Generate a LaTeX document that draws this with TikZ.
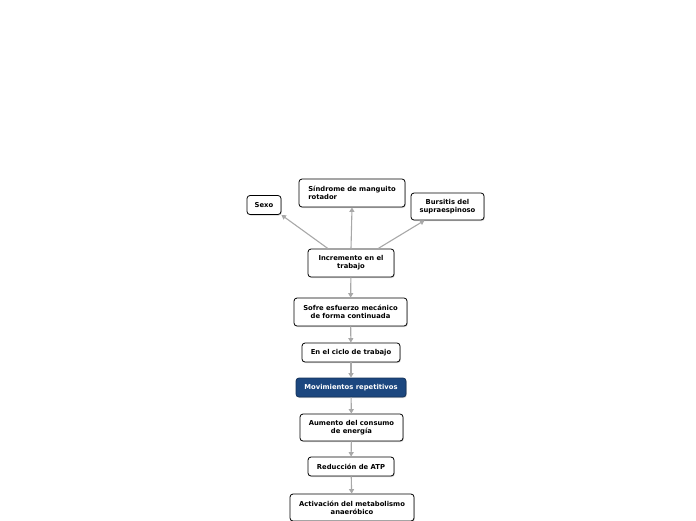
\documentclass[tikz,border=0pt]{standalone}
\usepackage{fontspec}
\setmainfont{DejaVu Sans}
\usetikzlibrary{arrows.meta,shadows}
\definecolor{conn}{HTML}{A8A8A8}
\definecolor{navy}{HTML}{1C477F}
\begin{document}
\begin{tikzpicture}[x=1pt,y=-1pt,
  box/.style={draw=black,line width=0.8pt,rounded corners=3pt,fill=white,
    font=\fontsize{6.8}{8}\selectfont\bfseries,align=center,inner sep=0pt,
    drop shadow={shadow xshift=0.8pt,shadow yshift=-1pt,opacity=0.35}},
  hl/.style={box,fill=navy,draw=navy!70!black,text=white},
  arr/.style={draw=conn,line width=1.1pt,-{Triangle[width=5pt,length=4.5pt]}}]
\useasboundingbox (0,0) rectangle (696,520);
\node[box,minimum width=34pt,minimum height=19pt] (sexo) at (264,205) {Sexo};
\node[box,minimum width=106pt,minimum height=28pt,align=left] (sind) at (352,193) {Síndrome de manguito\\rotador};
\node[box,minimum width=73pt,minimum height=27pt] (burs) at (447.5,206.5) {Bursitis del\\supraespinoso};
\node[box,minimum width=86pt,minimum height=28pt] (inc) at (351,263) {Incremento en el\\trabajo};
\node[box,minimum width=113pt,minimum height=28pt] (sofre) at (350.5,312) {Sofre esfuerzo mecánico\\de forma continuada};
\node[box,minimum width=98pt,minimum height=19pt] (ciclo) at (351,352.5) {En el ciclo de trabajo};
\node[hl,minimum width=110pt,minimum height=19pt] (mov) at (351,387.5) {Movimientos repetitivos};
\node[box,minimum width=103pt,minimum height=27pt] (aum) at (351.5,427.5) {Aumento del consumo\\de energía};
\node[box,minimum width=86pt,minimum height=19pt] (red) at (351,466.5) {Reducción de ATP};
\node[box,minimum width=124pt,minimum height=27pt] (act) at (352,507.5) {Activación del metabolismo\\anaeróbico};
\draw[arr] ([xshift=-23pt]inc.north) -- (sexo.south east);
\draw[arr] (inc.north) -- (sind.south);
\draw[arr] ([xshift=27pt]inc.north) -- ([xshift=-23pt]burs.south);
\draw[arr] (inc) -- (sofre);
\draw[arr] (sofre) -- (ciclo);
\draw[arr] (ciclo) -- (mov);
\draw[arr] (mov) -- (aum);
\draw[arr] (aum) -- (red);
\draw[arr] (red) -- (act);
\end{tikzpicture}
\end{document}
